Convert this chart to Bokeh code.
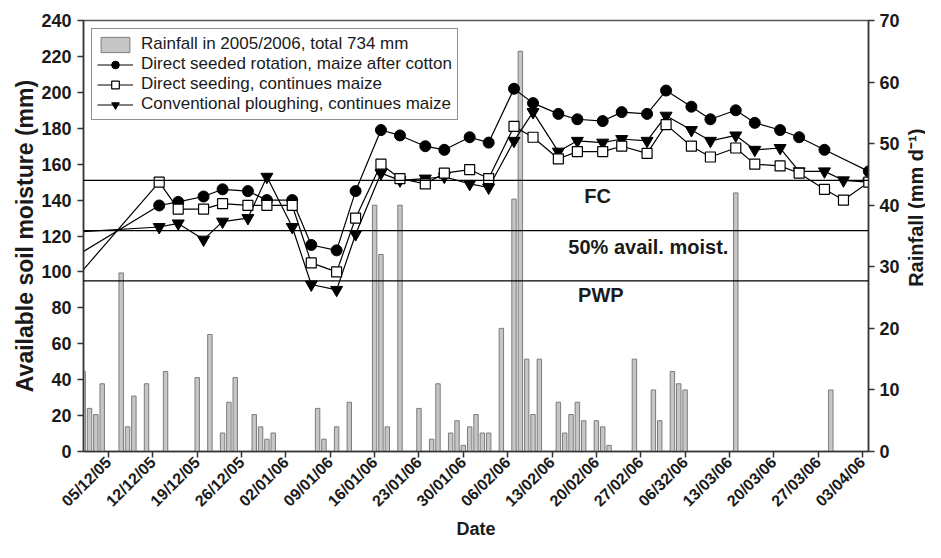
import math
from bokeh.plotting import figure
from bokeh.layouts import row
from bokeh.models import (Range1d, LinearAxis, Span, Label, Legend, LegendItem,
                          FixedTicker)
from bokeh.embed import file_html
from bokeh.resources import INLINE

# ---- data (day 0 = 05/12/2005) ----
tick_days = [0, 7, 14, 21, 28, 35, 42, 49, 56, 63, 70, 77, 84, 91, 98, 105, 112, 119]
tick_labels = ["05/12/05", "12/12/05", "19/12/05", "26/12/05", "02/01/06", "09/01/06",
               "16/01/06", "23/01/06", "30/01/06", "06/02/06", "13/02/06", "20/02/06",
               "27/02/06", "06/32/06", "13/03/06", "20/03/06", "27/03/06", "03/04/06"]

rain_day = [-4, -3, -2, -1, 2, 3, 4, 6, 9, 14, 16, 18, 19, 20, 23, 24, 25, 26,
            33, 34, 36, 38, 42, 43, 44, 46, 49, 51, 52, 54, 55, 56, 57, 58, 59, 60,
            62, 64, 65, 66, 67, 68, 71, 72, 73, 74, 75, 77, 78, 79, 83, 86, 87,
            89, 90, 91, 99, 114]
rain_mm = [13, 7, 6, 11, 29, 4, 9, 11, 13, 12, 19, 3, 8, 12, 6, 4, 2, 3,
           7, 2, 4, 8, 40, 32, 4, 40, 7, 2, 11, 3, 5, 1, 4, 6, 3, 3,
           20, 41, 65, 15, 6, 15, 8, 3, 6, 8, 5, 5, 4, 1, 15, 10, 5,
           13, 11, 10, 42, 10]

rot_day = [-6, 8, 11, 15, 18, 22, 25, 29, 32, 36, 39, 43, 46, 50, 53, 57, 60, 64, 67,
           71, 74, 78, 81, 85, 88, 92, 95, 99, 102, 106, 109, 113, 120]
rot_sm = [107, 137, 139, 142, 146, 145, 140, 140, 115, 112, 145, 179, 176, 170, 168, 175,
          172, 202, 194, 188, 185, 184, 189, 188, 201, 192, 185, 190, 183, 179, 175, 168, 156]

ds_day = [-6, 8, 11, 15, 18, 22, 25, 29, 32, 36, 39, 43, 46, 50, 53, 57, 60, 64, 67,
          71, 74, 78, 81, 85, 88, 92, 95, 99, 102, 106, 109, 113, 116, 120]
ds_sm = [93, 150, 135, 135, 138, 137, 137, 137, 105, 100, 130, 160, 152, 149, 155, 157,
         152, 181, 175, 163, 167, 167, 170, 166, 182, 170, 164, 169, 160, 159, 155, 146,
         140, 150]

cp_day = ds_day
cp_sm = [122, 125, 127, 118, 128, 130, 153, 125, 93, 90, 121, 155, 151, 152, 153, 149,
         147, 173, 189, 167, 173, 172, 174, 173, 187, 179, 173, 176, 168, 169, 156, 156,
         151, 150]

fc, half, pwp = 151, 123, 95

FONT = "Liberation Sans"
H = 542

p_main = figure(width=905, height=H, output_backend="svg", toolbar_location=None,
                x_range=Range1d(-3.95, 119.95), y_range=Range1d(0, 240),
                min_border_left=83, min_border_right=37, min_border_top=20,
                min_border_bottom=91)
p_main.extra_y_ranges = {"rain": Range1d(0, 70)}
p_main.xgrid.visible = False
p_main.ygrid.visible = False
p_main.outline_line_color = "#555555"
p_main.outline_line_width = 1.5
p_main.background_fill_color = "white"

# bars
bars = p_main.vbar(x=rain_day, top=rain_mm, bottom=0, width=0.7, y_range_name="rain",
                   fill_color="#c6c6c6", line_color="#7c7c7c", line_width=1)

# reference lines
for loc in (fc, half, pwp):
    p_main.add_layout(Span(location=loc, dimension="width", line_color="black", line_width=1.3))

# series
l1 = p_main.line(rot_day, rot_sm, line_color="black", line_width=1.2)
m1 = p_main.scatter(rot_day, rot_sm, marker="circle", size=11, fill_color="black", line_color="black")
l3 = p_main.line(cp_day, cp_sm, line_color="black", line_width=1.2)
m3 = p_main.scatter(cp_day, cp_sm, marker="inverted_triangle", size=12, fill_color="black", line_color="black")
l2 = p_main.line(ds_day, ds_sm, line_color="black", line_width=1.2)
m2 = p_main.scatter(ds_day, ds_sm, marker="square", size=10, fill_color="white", line_color="black", line_width=1.2)

# text annotations inside the plot
for txt, xx, yy in (("FC", 77.2, 142), ("50% avail. moist.", 85.2, 114), ("PWP", 77.7, 87.4)):
    p_main.add_layout(Label(x=xx, y=yy, text=txt, text_align="center", text_baseline="middle",
                            text_font=FONT, text_font_style="bold", text_font_size="20px",
                            text_color="#1a1a1a"))

# axes
def style_axis(ax):
    ax.axis_line_color = "#333333"
    ax.axis_line_width = 1.5
    ax.major_tick_line_color = "#333333"
    ax.major_tick_line_width = 1.5
    ax.major_tick_out = 6
    ax.major_tick_in = 0
    ax.minor_tick_line_color = None
    ax.major_label_text_font = FONT
    ax.major_label_text_font_style = "bold"
    ax.major_label_text_font_size = "18px"
    ax.major_label_text_color = "#1a1a1a"
    ax.major_label_standoff = 6
    ax.axis_label_text_font = FONT
    ax.axis_label_text_font_style = "bold"
    ax.axis_label_text_color = "#1a1a1a"

xa = p_main.xaxis[0]
style_axis(xa)
xa.ticker = FixedTicker(ticks=tick_days)
xa.major_label_overrides = {d: s for d, s in zip(tick_days, tick_labels)}
xa.major_label_orientation = math.pi / 4
xa.major_label_text_font_size = "16px"
xa.major_label_standoff = 2
xa.axis_label = "Date"
xa.axis_label_text_font_size = "18px"
xa.axis_label_standoff = 0

ya = p_main.yaxis[0]
style_axis(ya)
ya.ticker = FixedTicker(ticks=list(range(0, 241, 20)))
ya.axis_label = "Available soil moisture (mm)"
ya.axis_label_text_font_size = "23px"
ya.axis_label_standoff = 0

ra = LinearAxis(y_range_name="rain", ticker=FixedTicker(ticks=list(range(0, 71, 10))))
style_axis(ra)
ra.major_label_standoff = 5
p_main.add_layout(ra, "right")

legend = Legend(items=[
    LegendItem(label="Rainfall in 2005/2006, total 734 mm", renderers=[bars]),
    LegendItem(label="Direct seeded rotation, maize after cotton", renderers=[l1, m1]),
    LegendItem(label="Direct seeding, continues maize", renderers=[l2, m2]),
    LegendItem(label="Conventional ploughing, continues maize", renderers=[l3, m3]),
], location="top_left")
legend.margin = 8
legend.padding = 5
legend.spacing = 0
legend.glyph_width = 36
legend.glyph_height = 19
legend.label_height = 19
legend.label_standoff = 8
legend.label_text_font = FONT
legend.label_text_font_size = "17px"
legend.label_text_color = "#1a1a1a"
legend.border_line_color = "#222222"
legend.border_line_width = 1.2
legend.background_fill_alpha = 1
p_main.add_layout(legend)

# narrow strip holding the right-hand axis title (reads bottom to top)
p_side = figure(width=20, height=H, output_backend="svg", toolbar_location=None,
                x_range=Range1d(0, 1), y_range=Range1d(0, H),
                x_axis_type=None, y_axis_type=None, min_border=0)
p_side.grid.visible = False
p_side.outline_line_color = None
p_side.add_layout(Label(x=0.5, y=H - 235.5, text="Rainfall (mm d\u207b\u00b9)", angle=math.pi / 2,
                        text_align="center", text_baseline="middle",
                        text_font=FONT, text_font_style="bold", text_font_size="20px",
                        text_color="#1a1a1a"))

p = row(p_main, p_side)

open("out.html", "w").write(file_html(p, INLINE))
